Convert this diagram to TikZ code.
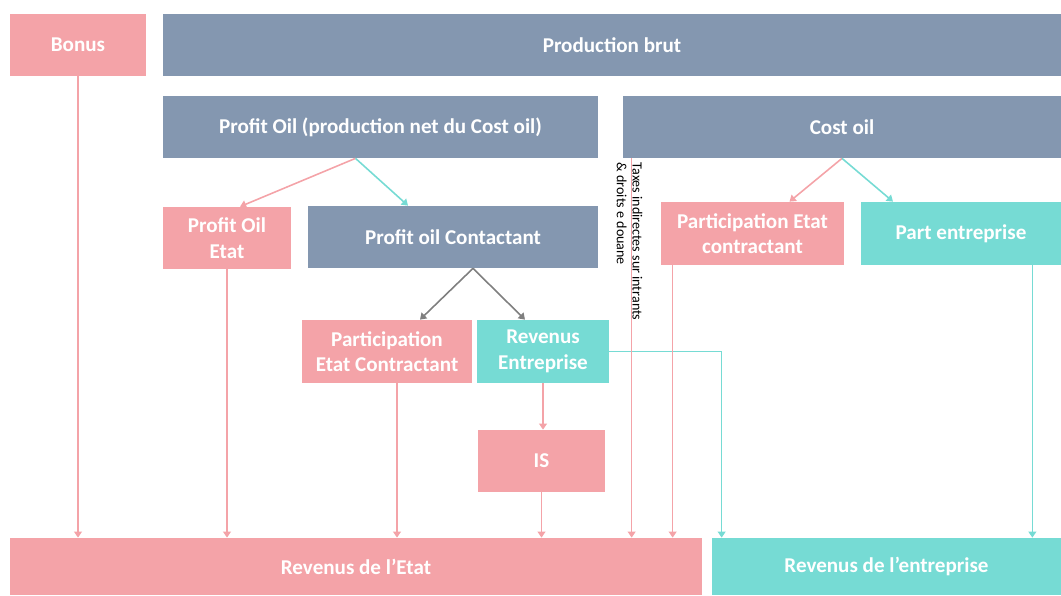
\documentclass[tikz,border=0pt]{standalone}
\usepackage{fontspec}
\setsansfont{Carlito}
\usetikzlibrary{arrows.meta,calc,positioning}
\definecolor{gris}{HTML}{8497B0}
\definecolor{rose}{HTML}{F4A3A8}
\definecolor{turq}{HTML}{76DBD4}
\definecolor{fleche}{HTML}{7F7F7F}

\begin{document}
\begin{tikzpicture}[x=0.02cm,y=-0.02cm,
    boite/.style 2 args={inner sep=0pt,text=white,align=center,minimum width=#1*0.02cm,minimum height=#2*0.02cm,font=\sffamily\bfseries\fontsize{12}{14.5}\selectfont},
    bleu/.style 2 args={boite={#1}{#2},fill=gris},
    rouge/.style 2 args={boite={#1}{#2},fill=rose},
    vert/.style 2 args={boite={#1}{#2},fill=turq},
    fl/.style={line width=0.9pt,-{Triangle[width=4.5pt,length=3.5pt]}}]
    \useasboundingbox (0,0) rectangle (1061,595);
    % boites
    \node[rouge={136}{62}] (bonus) at (78,45) {Bonus};
    \node[bleu={898}{62}] (brut) at (612,45) {Production brut};
    \node[bleu={435}{62}] (profit) at (380.5,127) {Profit Oil (production net du Cost oil)};
    \node[bleu={438}{62}] (cost) at (842,127) {Cost oil};
    \node[rouge={128}{62}] (poetat) at (227,238) {Profit Oil\\Etat};
    \node[bleu={290}{62}] (pocontr) at (453,237) {Profit oil Contactant};
    \node[rouge={183}{63}] (partetat) at (752.5,233.5) {Participation Etat\\contractant};
    \node[vert={200}{63}] (partent) at (961,233.5) {Part entreprise};
    \node[rouge={170}{63}] (pec) at (387,351.5) {Participation\\Etat Contractant};
    \node[vert={132}{63}] (revent) at (543,351.5) {Revenus\\Entreprise};
    \node[rouge={127}{62}] (is) at (541.5,461) {IS};
    \node[rouge={692}{57}] (revetat) at (356,566.5) {Revenus de l’Etat};
    \node[vert={349}{57}] (revente) at (886.5,566.5) {Revenus de l’entreprise};
    % points de depart
    \coordinate (po) at ($(profit.south)+(-25,0)$);
    \coordinate (pc) at ($(pocontr.south)+(20,0)$);
    \coordinate (pe) at ($(pec.south)+(10,0)$);
    \coordinate (tx) at ($(cost.south west)+(9,0)$);
    \coordinate (pt) at ($(partetat.south west)+(12,0)$);
    \coordinate (pa) at ($(partent.south east)+(-29,0)$);
    % fleches
    \draw[fl,rose] (bonus.south) -- (bonus.south |- revetat.north);
    \draw[fl,rose] (po) -- ($(poetat.north)+(13,0)$);
    \draw[fl,turq] (po) -- ($(pocontr.north)+(-45,0)$);
    \draw[fl,rose] (poetat.south) -- (poetat.south |- revetat.north);
    \draw[fl,fleche] (pc) -- ($(pec.north)+(33,0)$);
    \draw[fl,fleche] (pc) -- ($(revent.north)+(-18,0)$);
    \draw[fl,rose] (pe) -- (pe |- revetat.north);
    \draw[fl,rose] (revent.south) -- (revent.south |- is.north);
    \draw[fl,rose] (is.south) -- (is.south |- revetat.north);
    \draw[fl,turq] (revent.east) -| ($(revente.north west)+(10,0)$);
    \draw[fl,rose] (tx) -- (tx |- revetat.north);
    \node[rotate=-90,anchor=west,align=left,inner sep=0pt,font=\sffamily\fontsize{8}{9}\selectfont] (taxes) at ($(tx)+(-2,4)$) {Taxes indirectes sur intrants\\\& droits e douane};
    \draw[fl,rose] (cost.south) -- ($(partetat.north)+(37,0)$);
    \draw[fl,turq] (cost.south) -- ($(partent.north)+(-68,0)$);
    \draw[fl,rose] (pt) -- (pt |- revetat.north);
    \draw[fl,turq] (pa) -- (pa |- revente.north);
\end{tikzpicture}
\end{document}
